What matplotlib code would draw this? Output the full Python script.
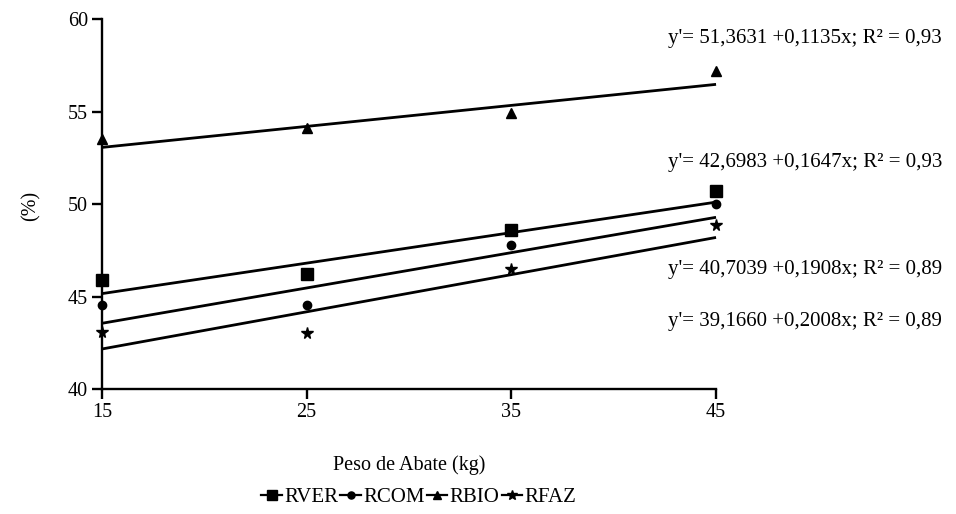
import numpy as np
import matplotlib
matplotlib.use("Agg")
import matplotlib.pyplot as plt
from matplotlib.lines import Line2D

plt.rcParams['font.family'] = ['Liberation Serif', 'DejaVu Serif']

# Slaughter weight (kg)
peso = [15, 25, 35, 45]

# Yields (%) per slaughter weight
rver = [45.9, 46.25, 48.6, 50.7]
rcom = [44.55, 44.55, 47.8, 50.0]
rbio = [53.5, 54.1, 54.95, 57.2]
rfaz = [43.1, 43.05, 46.5, 48.9]

series_names = ["RVER", "RCOM", "RBIO", "RFAZ"]
series_markers = ["s", "o", "^", "*"]
series_sizes = [8, 6, 7.5, 8.5]

# Regression coefficients (intercept, slope, R²)
intercepts = [42.6983, 40.7039, 51.3631, 39.1660]
slopes = [0.1647, 0.1908, 0.1135, 0.2008]
r2 = ["0,93", "0,89", "0,93", "0,89"]
intercept_txt = ["42,6983", "40,7039", "51,3631", "39,1660"]
slope_txt = ["0,1647", "0,1908", "0,1135", "0,2008"]

# vertical position (figure fraction) of each equation label
eq_y = [0.683, 0.475, 0.926, 0.374]

x_ticks = [15, 25, 35, 45]
y_ticks = [40, 45, 50, 55, 60]

fig = plt.figure(figsize=(9.56, 5.14), dpi=100)
ax = fig.add_axes([0.1067, 0.2426, 0.6423, 0.7204])

data = [rver, rcom, rbio, rfaz]
xs = np.array([15, 45])
for vals, mk, ms, b0, b1 in zip(data, series_markers, series_sizes, intercepts, slopes):
    ax.plot(xs, b0 + b1 * xs, color="black", lw=2.0, solid_capstyle="butt", clip_on=False)
    ax.plot(peso, vals, linestyle="none", marker=mk, markersize=ms,
            color="black", clip_on=False, zorder=3)

ax.set_xlim(15, 45)
ax.set_ylim(40, 60)
ax.set_xticks(x_ticks)
ax.set_yticks(y_ticks)
ax.spines["top"].set_visible(False)
ax.spines["right"].set_visible(False)
for s in ("left", "bottom"):
    ax.spines[s].set_linewidth(1.7)
ax.tick_params(axis="both", direction="out", length=7, width=1.7,
               labelsize=14.5, pad=3)

ax.set_xlabel("Peso de Abate (kg)", fontsize=14.5, labelpad=24)
fig.text(0.032, 0.60, "(%)", rotation=90, fontsize=14.5, ha="center", va="center")

for i in range(4):
    txt = "y'= %s +%sx; R² = %s" % (intercept_txt[i], slope_txt[i], r2[i])
    fig.text(0.699, eq_y[i], txt, fontsize=15, ha="left", va="center")

handles = [Line2D([0], [0], color="black", lw=1.6, marker=mk, markersize=ms * 0.85)
           for mk, ms in zip(series_markers, series_sizes)]
fig.legend(handles, series_names, loc="center", bbox_to_anchor=(0.438, 0.033),
           ncol=4, frameon=False, fontsize=15, handlelength=1.0,
           handletextpad=0.1, columnspacing=0.1, borderpad=0)

fig.savefig("out.png", dpi=100)
